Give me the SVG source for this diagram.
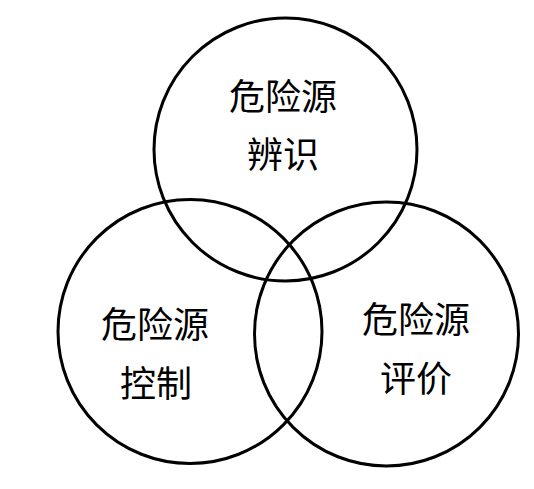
<svg xmlns="http://www.w3.org/2000/svg" width="534" height="489" viewBox="0 0 534 489">
<style>
.c{fill:none;stroke:#000;stroke-width:3}
.t{font-family:"Noto Sans CJK SC","Noto Sans CJK TC",sans-serif;font-size:36px;fill:#000;text-anchor:middle}
</style>
<rect width="534" height="489" fill="#fff"/>
<g id="identify">
<circle class="c" cx="285.5" cy="149.5" r="131.5"/>
<text class="t" x="283" y="110">危险源</text>
<text class="t" x="283" y="168">辨识</text>
</g>
<g id="control">
<circle class="c" cx="190" cy="331.5" r="132"/>
<text class="t" x="155" y="338">危险源</text>
<text class="t" x="156" y="397">控制</text>
</g>
<g id="evaluate">
<circle class="c" cx="386.5" cy="334" r="132"/>
<text class="t" x="416" y="333">危险源</text>
<text class="t" x="416" y="392">评价</text>
</g>
<g id="connectors"></g>
</svg>
